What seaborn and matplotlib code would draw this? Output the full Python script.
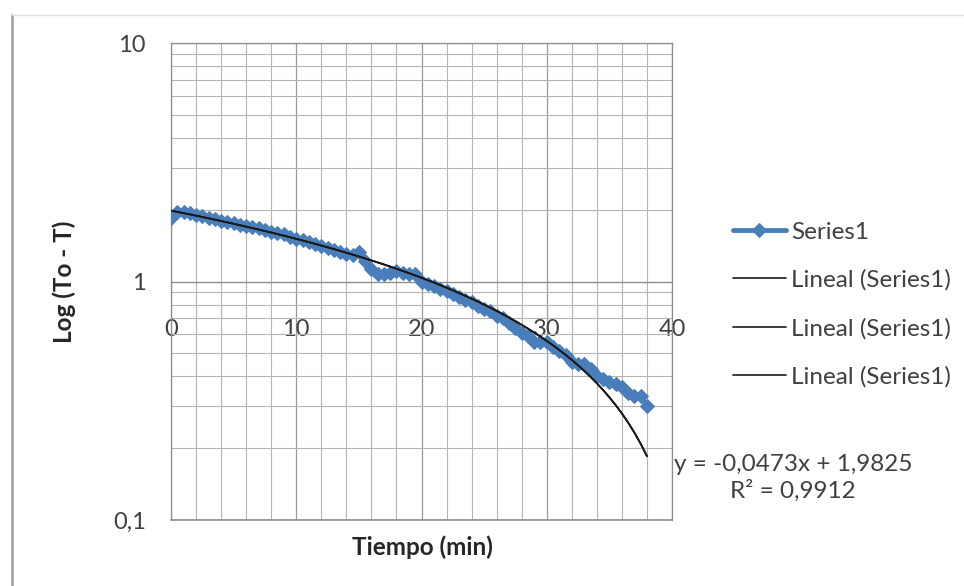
import numpy as np
import pandas as pd
import matplotlib
matplotlib.use("Agg")
import matplotlib.pyplot as plt
from matplotlib.ticker import FixedLocator, LogLocator, NullFormatter
from matplotlib.lines import Line2D
import seaborn as sns

# ---- data ----
tiempo = [0, 0.5, 1, 1.5, 2, 2.5, 3, 3.5, 4, 4.5, 5, 5.5, 6, 6.5, 7, 7.5, 8, 8.5, 9, 9.5,
          10, 10.5, 11, 11.5, 12, 12.5, 13, 13.5, 14, 14.5, 15, 15.5, 16, 16.5, 17, 17.5,
          18, 18.5, 19, 19.5, 20, 20.5, 21, 21.5, 22, 22.5, 23, 23.5, 24, 24.5, 25, 25.5,
          26, 26.5, 27, 27.5, 28, 28.5, 29, 29.5, 30, 30.5, 31, 31.5, 32, 32.5, 33, 33.5,
          34, 34.5, 35, 35.5, 36, 36.5, 37, 37.5, 38]
valores = [1.84, 1.96, 1.95, 1.93, 1.90, 1.88, 1.85, 1.83, 1.80, 1.78, 1.76, 1.73, 1.71, 1.69,
           1.67, 1.65, 1.62, 1.59, 1.58, 1.54, 1.51, 1.49, 1.46, 1.44, 1.41, 1.38, 1.36, 1.33,
           1.31, 1.29, 1.33, 1.22, 1.13, 1.08, 1.07, 1.09, 1.11, 1.09, 1.07, 1.07, 1.00, 0.98,
           0.96, 0.93, 0.91, 0.89, 0.86, 0.84, 0.82, 0.79, 0.77, 0.75, 0.72, 0.70, 0.67, 0.64,
           0.61, 0.59, 0.56, 0.56, 0.56, 0.53, 0.51, 0.49, 0.46, 0.45, 0.45, 0.43, 0.40, 0.39,
           0.38, 0.37, 0.36, 0.34, 0.33, 0.33, 0.30]
# linear trendline shown in the chart
pendiente = -0.0473
intercepto = 1.9825
r2 = 0.9912
x_ticks = [0, 10, 20, 30, 40]
y_ticks = [0.1, 1, 10]
y_tick_labels = ["0,1", "1", "10"]

df = pd.DataFrame({"Tiempo": tiempo, "Valor": valores})
trend_x = np.array(tiempo)
trend = pd.DataFrame({"Tiempo": trend_x, "Valor": intercepto + pendiente * trend_x})

sns.set_style("white")
plt.rcParams["font.family"] = ["Lato", "DejaVu Sans"]

fig = plt.figure(figsize=(9.64, 5.86), dpi=100)
W, H = 964, 586
ax = fig.add_axes([171 / W, 1 - 520 / H, (672 - 171) / W, (520 - 43) / H])

blue = "#4a7ebb"
sns.lineplot(data=df, x="Tiempo", y="Valor", ax=ax, color=blue, lw=3.5,
             marker="D", markersize=7.5, markeredgecolor=blue, label="Series1", zorder=3)
for i in range(3):
    sns.lineplot(data=trend, x="Tiempo", y="Valor", ax=ax, color="#1a1a1a", lw=1.2,
                 label="Lineal (Series1)", zorder=4)

ax.set_yscale("log")
ax.set_xlim(0, 40)
ax.set_ylim(0.1, 10)

# grid
ax.xaxis.set_major_locator(FixedLocator(x_ticks))
ax.xaxis.set_minor_locator(FixedLocator(np.arange(0, 41, 2)))
ax.yaxis.set_major_locator(FixedLocator(y_ticks))
ax.yaxis.set_minor_locator(LogLocator(base=10, subs=np.arange(2, 10)))
ax.yaxis.set_minor_formatter(NullFormatter())
ax.set_yticklabels(y_tick_labels)
ax.grid(True, which="major", color="#9a9a9a", lw=0.9)
ax.grid(True, which="minor", color="#b4b4b4", lw=0.8)
ax.set_axisbelow(True)

# x axis crosses at y = 1
for s in ["top", "right", "left"]:
    ax.spines[s].set_color("#8c8c8c")
    ax.spines[s].set_linewidth(0.9)
ax.spines["bottom"].set_position(("data", 1))
ax.spines["bottom"].set_color("#8c8c8c")
ax.axhline(0.1, color="#8c8c8c", lw=1.2, clip_on=False)
ax.tick_params(axis="x", which="both", length=0, pad=27, labelsize=17, colors="#404040")
ax.tick_params(axis="y", which="major", length=6, width=0.9, color="#8c8c8c", pad=12,
               labelsize=17, labelcolor="#404040")
ax.tick_params(axis="y", which="minor", length=0)

ax.set_xlabel("")
ax.set_ylabel("")
fig.text(422 / W, 1 - 547 / H, "Tiempo (min)", ha="center", va="center",
         fontsize=17.5, fontweight="bold", color="#262626")
fig.text(64 / W, 1 - 282 / H, "Log (To - T)", ha="center", va="center", rotation=90,
         fontsize=17.5, fontweight="bold", color="#262626")

# legend
leg = ax.legend(loc="upper left", bbox_to_anchor=(723 / W, 1 - 212 / H),
                bbox_transform=fig.transFigure, frameon=False, fontsize=17.5,
                labelspacing=1.1, handlelength=2.2, handletextpad=0.2, borderaxespad=0)
for t in leg.get_texts():
    t.set_color("#404040")

# equation
fig.text(793 / W, 1 - 478 / H, "y = -0,0473x + 1,9825\nR² = 0,9912", ha="center",
         va="center", fontsize=17.5, color="#404040", linespacing=1.25, multialignment="center")

# chart area border
fig.add_artist(Line2D([12 / W, 12 / W], [0, 1 - 15 / H], color="#a6a6a6", lw=2,
                      transform=fig.transFigure))
fig.add_artist(Line2D([12 / W, 1], [1 - 15 / H, 1 - 15 / H], color="#e0e0e0", lw=1,
                      transform=fig.transFigure))

fig.savefig("out.png", dpi=100)
